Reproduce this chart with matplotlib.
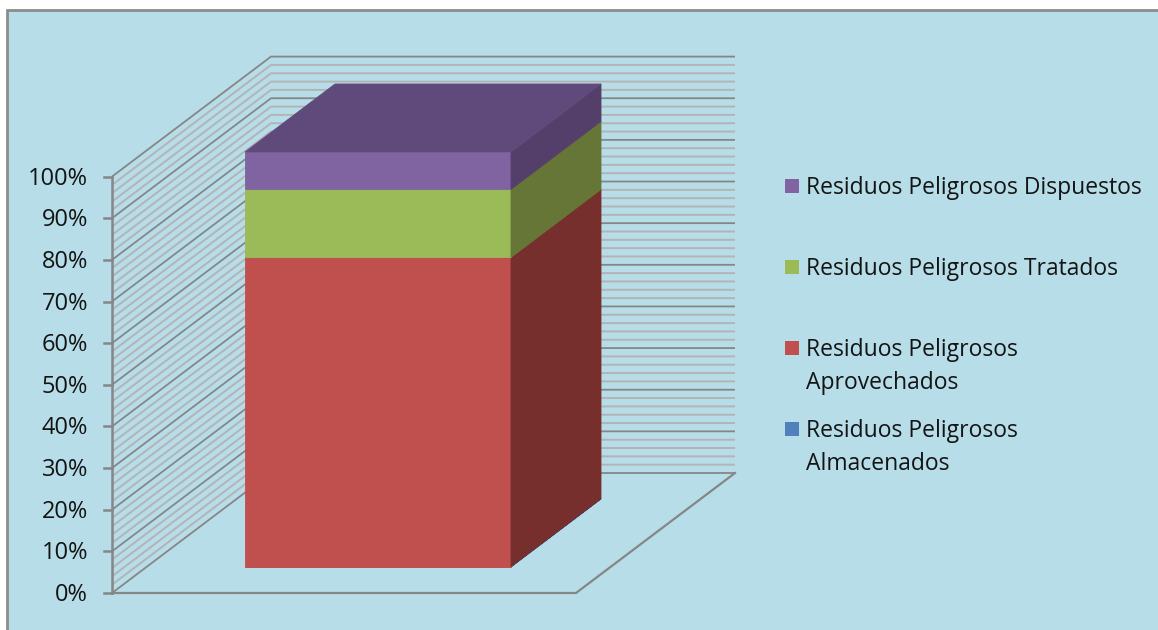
import matplotlib
matplotlib.use("Agg")
import matplotlib.pyplot as plt
from matplotlib.patches import Polygon, Rectangle

# ---- data ----
series = ["Residuos Peligrosos\nAlmacenados", "Residuos Peligrosos\nAprovechados",
          "Residuos Peligrosos Tratados", "Residuos Peligrosos Dispuestos"]
values = [0.1, 74.5, 16.4, 9.0]
front_colors = ["#4f81bd", "#c0504d", "#9bbb59", "#8064a2"]
side_colors = ["#2f4d71", "#772f2e", "#657636", "#543f6b"]
top_color = "#604a7b"
tick_values = list(range(0, 101, 10))
tick_labels = [f"{v}%" for v in tick_values]
legend_y = [429, 348, 267, 186]
text_y = [470, 389, 275, 194]

W, H = 1158, 630
plt.rcParams["font.family"] = ["Open Sans", "DejaVu Sans"]
fig = plt.figure(figsize=(W / 100, H / 100), dpi=100, facecolor="white")
ax = fig.add_axes([0, 0, 1, 1])
ax.set_xlim(0, W)
ax.set_ylim(H, 0)
ax.axis("off")

# geometry of the oblique projection, in pixels
X0, Y0, Y100 = 112, 593, 176.6
FLOOR_W = 464
DX, DY = 159, 120
BAR_L, BAR_R = 245, 511
BAR_B, BAR_H = 567, 415
BDX, BDY = 90, 68
MAJOR, MINOR = "#868686", "#b2b4b6"
TEXT = "#141414"

def wy(v):
    return Y0 - (Y0 - Y100) * v / 100

ax.add_patch(Rectangle((6.5, 9.5), W, H, fc="#b7dde8", ec="#8c8c8c", lw=2, zorder=0))

# walls
for v in range(0, 101, 2):
    major = v % 10 == 0
    c, lw, z = (MAJOR, 1.3, 2) if major else (MINOR, 1.4, 1)
    y = wy(v)
    ax.plot([X0, X0 + DX, X0 + DX + FLOOR_W], [y, y - DY, y - DY], color=c, lw=lw, zorder=z,
            solid_joinstyle="miter", solid_capstyle="butt")

# left axis, ticks, floor
ax.plot([X0, X0], [wy(0), wy(100)], color=MAJOR, lw=1.8, zorder=3)
for v, lab in zip(tick_values, tick_labels):
    ax.plot([X0 - 8, X0], [wy(v), wy(v)], color=MAJOR, lw=1.8, zorder=3)
    ax.text(88, wy(v) + 8, lab, ha="right", va="baseline", fontsize=17, color=TEXT)
ax.plot([X0, X0 + FLOOR_W, X0 + FLOOR_W + DX], [wy(0), wy(0), wy(0) - DY],
        color=MAJOR, lw=1.6, zorder=3, solid_joinstyle="miter")

# stacked bar
bottom = 0.0
for val, fc, sc in zip(values, front_colors, side_colors):
    y0 = BAR_B - BAR_H * bottom / 100
    y1 = BAR_B - BAR_H * (bottom + val) / 100
    ax.add_patch(Polygon([(BAR_L, y0), (BAR_R, y0), (BAR_R, y1), (BAR_L, y1)], fc=fc, ec=fc, lw=0.6, zorder=5))
    ax.add_patch(Polygon([(BAR_R, y0), (BAR_R + BDX, y0 - BDY), (BAR_R + BDX, y1 - BDY), (BAR_R, y1)],
                         fc=sc, ec=sc, lw=0.6, zorder=5))
    bottom += val
ty = BAR_B - BAR_H
ax.add_patch(Polygon([(BAR_L, ty), (BAR_R, ty), (BAR_R + BDX, ty - BDY), (BAR_L + BDX, ty - BDY)],
                     fc=top_color, ec=top_color, lw=0.6, zorder=5))

# legend
for name, c, ys, yt in zip(series, front_colors, legend_y, text_y):
    ax.add_patch(Rectangle((785, ys - 7), 14, 14, fc=c, ec="none", zorder=4))
    ax.text(806, yt, name, ha="left", va="baseline", fontsize=16.5, color=TEXT, linespacing=1.5)

fig.savefig("out.png", dpi=100, facecolor="white")
